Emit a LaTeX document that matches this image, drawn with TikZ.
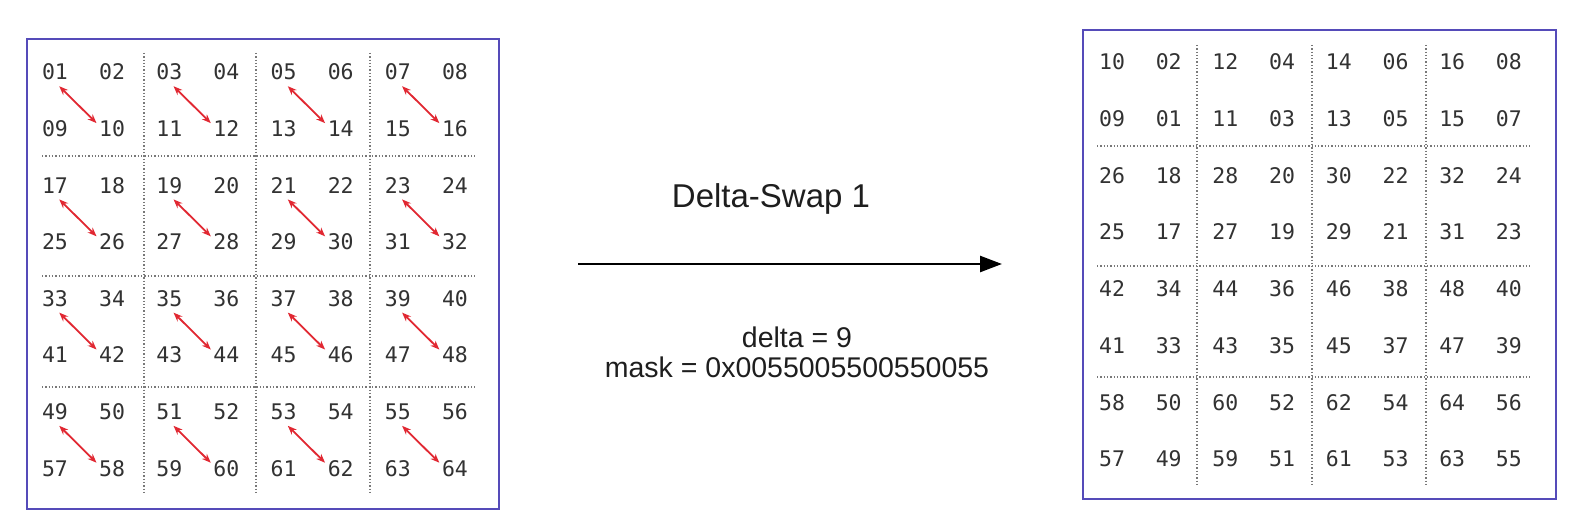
\documentclass[tikz,border=0pt]{standalone}
\usepackage{fontspec}
\setmainfont{Liberation Sans}
\newfontfamily\monof{DejaVu Sans Mono}
\usetikzlibrary{arrows.meta}
\definecolor{boxblue}{RGB}{85,75,185}
\definecolor{swapred}{RGB}{225,40,50}
\definecolor{numgray}{RGB}{50,50,50}
\definecolor{dotgray}{RGB}{120,120,120}
\definecolor{txt}{RGB}{30,30,30}
\begin{document}
\begin{tikzpicture}[x=1pt,y=-1pt,
  num/.style={font=\monof\fontsize{21.5}{25}\selectfont, text=numgray, inner sep=0pt, text height=15.7pt, text depth=0pt},
  frame/.style={draw=boxblue, line width=2pt, fill=white, inner sep=0pt},
  gridline/.style={draw=dotgray, dotted, line width=1.3pt},
  swap/.style={draw=swapred, line width=1.8pt, {Stealth[length=9pt,width=7pt]}-{Stealth[length=9pt,width=7pt]}},
  mainarrow/.style={draw=black, line width=2.5pt, -{Triangle[length=22pt,width=16pt]}},
  label/.style={text=txt, inner sep=0pt}
  ]
\useasboundingbox (0,0) rectangle (1584,532);
% frames
\node[frame, minimum width=472pt, minimum height=470pt, anchor=north west] (L) at (26,38) {};
\node[frame, minimum width=473pt, minimum height=469pt, anchor=north west] (R) at (1082,29) {};
% left grid lines
\foreach \x in {144,256,370} \draw[gridline] (\x,53) -- (\x,493);
\foreach \y in {156,276,387} \draw[gridline] (42,\y) -- (475,\y);
% right grid lines
\foreach \x in {1197,1312,1426} \draw[gridline] (\x,45) -- (\x,485);
\foreach \y in {146,266,377} \draw[gridline] (1097,\y) -- (1530,\y);
% left numbers
\foreach \r in {0,...,7}{
  \foreach \c in {0,...,7}{
    \pgfmathtruncatemacro\v{8*\r+\c+1}
    \node[num] (l-\r-\c) at ({55+57.14*\c},{72+56.6*\r}) {\ifnum\v<10 0\fi\v};
  }
}
% right numbers
\foreach \r in {0,...,7}{
  \foreach \c in {0,...,7}{
    \pgfmathtruncatemacro\v{ifthenelse(mod(\r,2)==0, ifthenelse(mod(\c,2)==0, 8*(\r+1)+\c+2, 8*\r+\c+1), ifthenelse(mod(\c,2)==0, 8*\r+\c+1, 8*(\r-1)+\c))}
    \node[num] (r-\r-\c) at ({1112+56.7*\c},{62+56.7*\r}) {\ifnum\v<10 0\fi\v};
  }
}
% swap arrows
\foreach \r in {0,2,4,6}{
  \foreach \c in {0,2,4,6}{
    \pgfmathtruncatemacro\rb{\r+1}
    \pgfmathtruncatemacro\cb{\c+1}
    \draw[swap, shorten <=6pt, shorten >=22pt] ([yshift=-10pt]l-\r-\c.center) -- ([yshift=-10pt]l-\rb-\cb.center);
  }
}
% main arrow
\coordinate (a0) at (578,264);
\coordinate (a1) at (1002,264);
\draw[mainarrow] (a0) -- (a1);
\node[label, font=\fontsize{33}{38}\selectfont] (title) at (771,199) {Delta-Swap 1};
\node[label, font=\fontsize{28.5}{30}\selectfont, align=center] (params) at (797,352) {delta = 9\\mask = 0x0055005500550055};
\end{tikzpicture}
\end{document}
